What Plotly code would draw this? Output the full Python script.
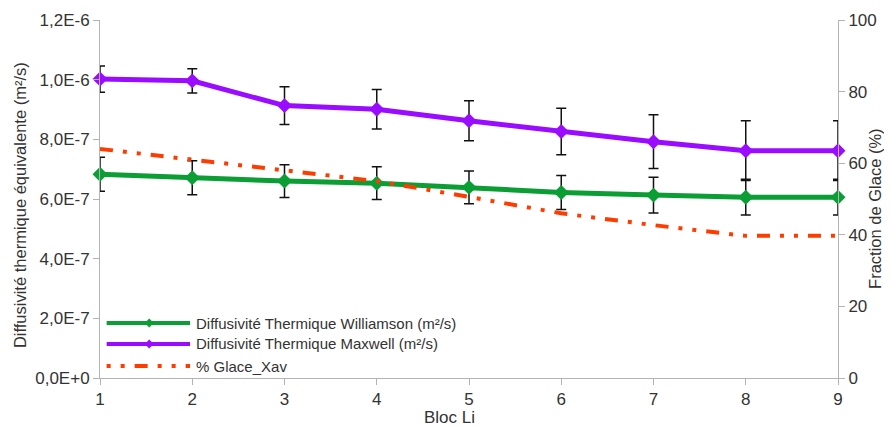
import plotly.graph_objects as go

bloc = [1, 2, 3, 4, 5, 6, 7, 8, 9]
williamson = [6.83e-7, 6.71e-7, 6.60e-7, 6.53e-7, 6.39e-7, 6.22e-7, 6.13e-7, 6.06e-7, 6.06e-7]
williamson_err = [5.7e-8, 5.7e-8, 5.5e-8, 5.5e-8, 5.5e-8, 5.7e-8, 6.0e-8, 6.0e-8, 6.0e-8]
maxwell = [1.002e-6, 0.996e-6, 0.913e-6, 0.901e-6, 0.862e-6, 0.826e-6, 0.792e-6, 0.762e-6, 0.762e-6]
maxwell_err = [4.4e-8, 4.1e-8, 6.3e-8, 6.6e-8, 6.7e-8, 7.8e-8, 9.0e-8, 1.0e-7, 1.0e-7]
glace = [64, 61, 58, 55, 50.6, 46, 42.7, 39.7, 39.7]

series_names = ["Diffusivité Thermique Williamson (m²/s)",
                "Diffusivité Thermique Maxwell (m²/s)",
                "% Glace_Xav"]
x_title = "Bloc Li"
y_title = "Diffusivité thermique équivalente (m²/s)"
y2_title = "Fraction de Glace (%)"

left_tickvals = [0, 2e-7, 4e-7, 6e-7, 8e-7, 1e-6, 1.2e-6]
left_ticktext = ["0,0E+0", "2,0E-7", "4,0E-7", "6,0E-7", "8,0E-7", "1,0E-6", "1,2E-6"]
right_tickvals = [0, 20, 40, 60, 80, 100]

GREEN = "#0a9e34"
PURPLE = "#9a0cff"
ORANGE = "#ff3c00"
FONT = "Liberation Sans"
TXT = "#333333"
DASH = "13px,10px,4px,10px,4px,10px"

fig = go.Figure()
err_style = dict(type="data", visible=True, color="#111111", thickness=1.5, width=5)

fig.add_trace(go.Scatter(
    x=bloc, y=williamson, name=series_names[0], showlegend=False,
    mode="lines+markers", line=dict(color=GREEN, width=5),
    marker=dict(symbol="diamond", size=11.5, color=GREEN),
    error_y=dict(array=williamson_err, **err_style), cliponaxis=False))
fig.add_trace(go.Scatter(
    x=bloc, y=maxwell, name=series_names[1], showlegend=False,
    mode="lines+markers", line=dict(color=PURPLE, width=5),
    marker=dict(symbol="diamond", size=11.5, color=PURPLE),
    error_y=dict(array=maxwell_err, **err_style), cliponaxis=False))
fig.add_trace(go.Scatter(
    x=bloc, y=glace, name=series_names[2], yaxis="y2", showlegend=False,
    mode="lines", line=dict(color=ORANGE, width=4, dash=DASH),
    cliponaxis=False))

# custom legend (long line samples as in the original)
legend_rows = [0.1536, 0.0950, 0.0335]
legend_colors = [GREEN, PURPLE, ORANGE]
shapes = []
annotations = []
for i, (yy, col, name) in enumerate(zip(legend_rows, legend_colors, series_names)):
    if i < 2:
        shapes.append(dict(type="line", xref="paper", yref="paper", x0=0.009, x1=0.122,
                           y0=yy, y1=yy, line=dict(color=col, width=4)))
        shapes.append(dict(type="path", xref="paper", yref="paper", xsizemode="pixel",
                           ysizemode="pixel", xanchor=0.0667, yanchor=yy,
                           path="M0,-4.5 L4.5,0 L0,4.5 L-4.5,0 Z", fillcolor=col,
                           line=dict(width=0)))
    else:
        shapes.append(dict(type="line", xref="paper", yref="paper", x0=0.009, x1=0.122,
                           y0=yy, y1=yy, line=dict(color=col, width=4,
                                                   dash="4px,10px,4px,10px,13px,10px")))
    annotations.append(dict(text=name, xref="paper", yref="paper", x=0.1274, y=yy,
                            xanchor="left", yanchor="middle", showarrow=False,
                            font=dict(family=FONT, size=15, color=TXT)))

# axis titles placed as in the original
annotations.append(dict(text=x_title, xref="paper", yref="paper", x=0.473, y=-0.1117,
                        xanchor="center", yanchor="middle", showarrow=False,
                        font=dict(family=FONT, size=17, color=TXT)))
annotations.append(dict(text=y_title, xref="paper", yref="paper", x=-0.1084, y=0.483,
                        xanchor="center", yanchor="middle", textangle=-90, showarrow=False,
                        font=dict(family=FONT, size=16.5, color=TXT)))
annotations.append(dict(text=y2_title, xref="paper", yref="paper", x=1.05, y=0.472,
                        xanchor="center", yanchor="middle", textangle=-90, showarrow=False,
                        font=dict(family=FONT, size=16.5, color=TXT)))

axis_common = dict(showgrid=False, zeroline=False, showline=True, linecolor="#b3b3b3",
                   linewidth=1, ticks="outside", tickcolor="#b3b3b3", ticklen=6,
                   automargin=False,
                   tickfont=dict(family=FONT, size=17, color=TXT))

fig.update_layout(
    width=884, height=418,
    margin=dict(l=92, r=54, t=12, b=48),
    paper_bgcolor="white", plot_bgcolor="white",
    font=dict(family=FONT, color=TXT),
    showlegend=False,
    shapes=shapes,
    annotations=annotations,
    xaxis=dict(range=[1, 9], tickvals=bloc, **axis_common),
    yaxis=dict(range=[0, 1.2e-6], tickvals=left_tickvals, ticktext=left_ticktext,
               **axis_common),
    yaxis2=dict(range=[0, 100], tickvals=right_tickvals, overlaying="y", side="right",
                **axis_common),
)

fig.write_html("out.html")
